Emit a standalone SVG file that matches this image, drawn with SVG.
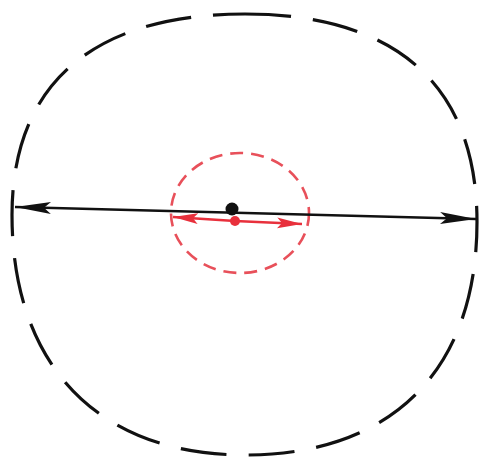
<svg xmlns="http://www.w3.org/2000/svg" width="485" height="462" viewBox="0 0 485 462">
<defs>
<style>
.outer{fill:none;stroke:#111;stroke-width:3.2;stroke-dasharray:46 22;}
.inner{fill:none;stroke:#e8505a;stroke-width:2.6;stroke-dasharray:13 8;}
.blk{stroke:#111;stroke-width:2.6;fill:none;}
.red{stroke:#e8303c;stroke-width:2.6;fill:none;}
</style>
<marker id="ab" markerUnits="userSpaceOnUse" markerWidth="40" markerHeight="16" refX="36" refY="7" orient="auto-start-reverse">
<path d="M0,1 L36,7 L0,13 L7,7 Z" fill="#111"/>
</marker>
<marker id="ar" markerUnits="userSpaceOnUse" markerWidth="28" markerHeight="16" refX="25" refY="7" orient="auto-start-reverse">
<path d="M0,1.5 L25,7 L0,12.5 L5,7 Z" fill="#e8303c"/>
</marker>
</defs>
<g id="outer-boundary">
<path class="outer" d="M245,14 C390,14 477,80 477,222 C477,372 390,455 245,455 C98,455 12,365 12,215 C12,80 98,14 245,14 Z"/>
</g>
<g id="inner-boundary">
<ellipse class="inner" cx="240" cy="213" rx="69" ry="60"/>
</g>
<g id="connectors">
<line class="blk" x1="15" y1="207" x2="476" y2="219" marker-start="url(#ab)" marker-end="url(#ab)"/>
<polyline class="red" points="173,217 235,221 302,224" marker-start="url(#ar)" marker-end="url(#ar)"/>
</g>
<g id="center-black">
<circle cx="232" cy="209" r="6.5" fill="#111"/>
</g>
<g id="center-red">
<circle cx="235" cy="221" r="5" fill="#e8303c"/>
</g>
</svg>
